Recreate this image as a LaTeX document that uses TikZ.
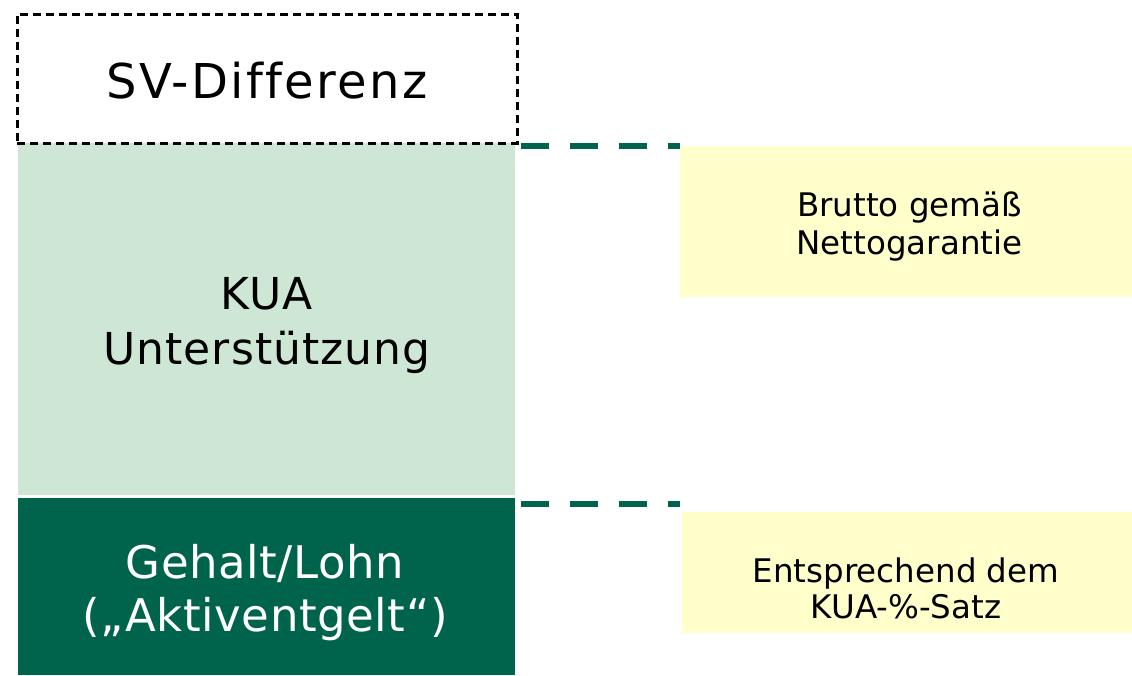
\documentclass[tikz,border=0pt]{standalone}
\usepackage{fontspec}
\setmainfont{DejaVu Sans}
\newfontfamily\svfont[LetterSpace=5,Ligatures=NoCommon]{DejaVu Sans}
\newfontfamily\kuafont[LetterSpace=2.5]{DejaVu Sans}
\newfontfamily\gehfont[LetterSpace=1.3]{DejaVu Sans}
\definecolor{darkg}{RGB}{0,100,76}
\definecolor{lightg}{RGB}{206,230,212}
\definecolor{paleyel}{RGB}{255,255,204}
\tikzset{
  box/.style={rectangle, inner sep=0pt, outer sep=0pt, anchor=north west},
  lbl/.style={inner sep=0pt, outer sep=0pt, align=center, anchor=center},
  conn/.style={draw=darkg, line width=6pt, dash pattern=on 28pt off 21pt},
}
\begin{document}
\begin{tikzpicture}[x=1pt,y=-1pt]
\useasboundingbox (0,0) rectangle (1132,675);
% boxes
\node[box, fill=lightg, minimum width=497pt, minimum height=352pt] (kua) at (18,143) {};
\node[box, fill=darkg, minimum width=497pt, minimum height=177pt] (geh) at (18,498) {};
\node[box, draw=black, line width=3pt, dash pattern=on 8pt off 5pt, minimum width=500pt, minimum height=129pt] (sv) at (17,14) {};
\node[box, fill=paleyel, minimum width=452pt, minimum height=151pt] (brutto) at (680,146) {};
\node[box, fill=paleyel, minimum width=450pt, minimum height=121pt] (entspr) at (682,512) {};
% labels
\node[lbl, font=\svfont\fontsize{48}{56}\selectfont] (svt) at (267,80.5) {SV-Differenz};
\node[lbl, font=\kuafont\fontsize{44}{55}\selectfont] (kuat) at (267,326) {KUA\\Unterstützung};
\node[lbl, text=white, font=\gehfont\fontsize{45}{53}\selectfont] (geht) at (265,593) {Gehalt/Lohn\\(„Aktiventgelt“)};
\node[lbl, font=\fontsize{32.5}{38}\selectfont] (bruttot) at (909.5,227) {Brutto gemäß\\Nettogarantie};
\node[lbl, font=\fontsize{32.5}{36}\selectfont] (entsprt) at (906,588) {Entsprechend dem\\KUA-\%-Satz};
% connectors
\draw[conn] ([shift={(6,3)}]kua.north east) -- (brutto.north west);
\draw[conn] ([shift={(6,6)}]geh.north east) -- ([shift={(0,6)}]geh.north east -| brutto.west);
\end{tikzpicture}
\end{document}
